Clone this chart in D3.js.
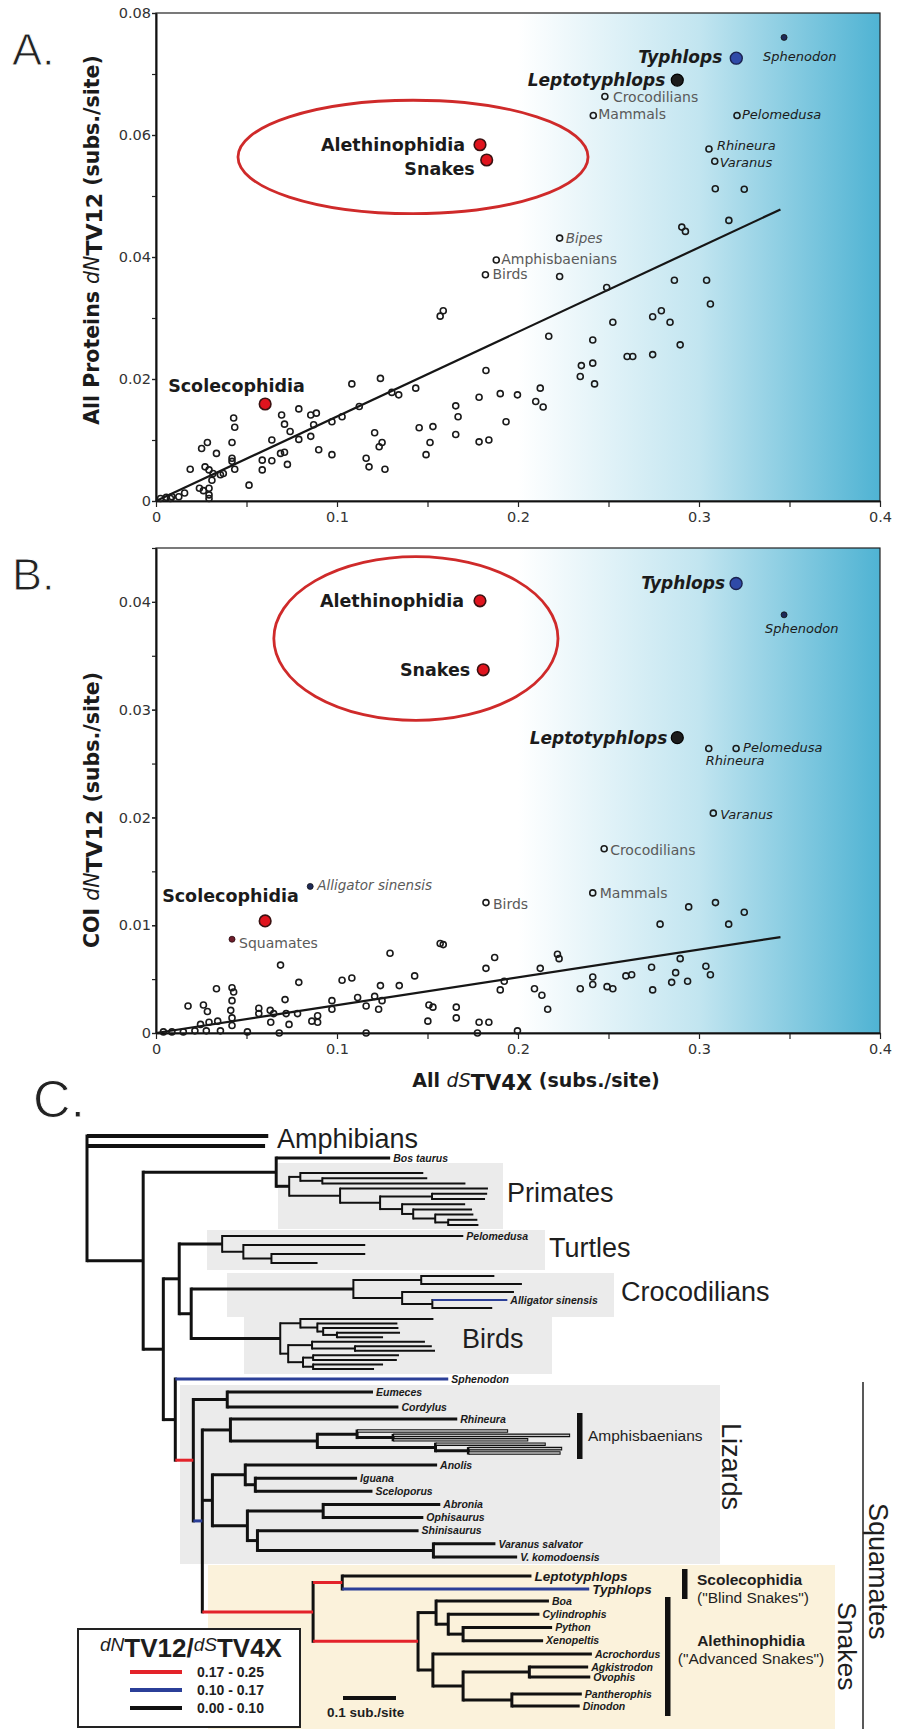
<!DOCTYPE html>
<html>
<head>
<meta charset="utf-8">
<script src="https://cdn.jsdelivr.net/npm/d3@7"></script>
<style>
  body { margin: 0; background: #fff; }
  svg { display: block; }
</style>
</head>
<body>
<svg id="fig" width="906" height="1729"></svg>
<script>
// ---------- panel A: all proteins dN(TV12) vs dS(TV4X) ----------
const protPoints = [
  [0.249,0.035],[0.2864,0.0362],[0.3042,0.0362],[0.3063,0.0323],[0.157,0.0303],[0.1587,0.0312],
  [0.2744,0.0302],[0.2792,0.0312],[0.284,0.0293],[0.2524,0.0293],[0.217,0.027],[0.2413,0.0264],
  [0.2896,0.0256],[0.2603,0.0237],[0.2634,0.0237],[0.2744,0.024],[0.235,0.0222],[0.2413,0.0226],
  [0.2344,0.0204],[0.2423,0.0192],[0.1823,0.0214],[0.2123,0.0185],[0.2098,0.0163],[0.2139,0.0154],
  [0.1997,0.0174],[0.1902,0.0176],[0.1785,0.017],[0.1934,0.013],[0.1785,0.0097],[0.1839,0.01],
  [0.1656,0.0156],[0.1669,0.0138],[0.1656,0.0109],[0.153,0.0122],[0.1454,0.012],[0.1514,0.0096],
  [0.1492,0.0076],[0.1435,0.0185],[0.1341,0.0174],[0.1303,0.0178],[0.124,0.0201],[0.1208,0.0112],
  [0.1249,0.0096],[0.1233,0.0089],[0.1161,0.007],[0.1177,0.0056],[0.1265,0.0052],[0.1082,0.0192],
  [0.1123,0.0155],[0.1028,0.0138],[0.0972,0.013],[0.0972,0.0076],[0.0899,0.0084],[0.0886,0.0144],
  [0.0855,0.0141],[0.0789,0.0151],[0.0871,0.0125],[0.0855,0.0106],[0.0789,0.0101],[0.0741,0.0114],
  [0.0694,0.0141],[0.071,0.0126],[0.064,0.01],[0.071,0.008],[0.0688,0.0078],[0.064,0.0066],
  [0.0726,0.006],[0.0587,0.0067],[0.0587,0.0051],[0.0514,0.0026],[0.0429,0.0136],[0.0435,0.0121],
  [0.042,0.0096],[0.042,0.007],[0.0435,0.0052],[0.042,0.0065],[0.0334,0.0078],[0.0284,0.0096],
  [0.0252,0.0086],[0.0189,0.0052],[0.0271,0.0056],[0.0293,0.0051],[0.0309,0.0034],[0.0356,0.0043],
  [0.0293,0.0021],[0.024,0.0021],[0.0262,0.0017],[0.0293,0.001],[0.0293,0.0004],[0.0158,0.0013],
  [0.0126,0.0007],[0.0088,0.0007],[0.008,0.0004],[0.0025,0.0004],[0.0057,0.0006],[0.0315,0.0045],
  [0.0372,0.0045],[0.309,0.0512],[0.325,0.0511],[0.3165,0.046],[0.2905,0.0449],[0.2925,0.0442],
  [0.223,0.0368]
];
const protTaxa = [
  ['Typhlops',0.3206,0.0726],['Sphenodon',0.347,0.076],['Leptotyphlops',0.288,0.069],
  ['Crocodilians',0.248,0.0663],['Mammals',0.2416,0.0632],['Pelomedusa',0.321,0.0632],
  ['Rhineura',0.3055,0.0577],['Varanus',0.3087,0.0557],['Alethinophidia',0.179,0.0584],
  ['Snakes',0.1827,0.0559],['Bipes',0.223,0.0431],['Amphisbaenians',0.188,0.0395],
  ['Birds',0.182,0.0371],['Scolecophidia',0.0603,0.0159]
];
const protFit = [[0,0],[0.345,0.0478]];
const protCircle = {cx:0.142, cy:0.0564, rx:0.0967, ry:0.0093};

// ---------- panel B: COI dN(TV12) vs dS(TV4X) ----------
const coiPoints = [
  [0.2943,0.0117],[0.3091,0.0121],[0.325,0.0112],[0.2785,0.0101],[0.3164,0.0101],[0.157,0.0083],
  [0.1587,0.0082],[0.1293,0.0074],[0.2218,0.0073],[0.2227,0.0069],[0.1871,0.007],[0.1823,0.006],
  [0.2123,0.006],[0.2896,0.0069],[0.0688,0.0063],[0.2738,0.0061],[0.3038,0.0062],[0.3063,0.0054],
  [0.2871,0.0056],[0.2596,0.0053],[0.2628,0.0054],[0.2413,0.0052],[0.2849,0.0047],[0.2937,0.0048],
  [0.2492,0.0043],[0.2524,0.0041],[0.2744,0.004],[0.2344,0.0041],[0.2413,0.0045],[0.1924,0.0048],
  [0.1902,0.004],[0.2091,0.0041],[0.2132,0.0035],[0.2164,0.0022],[0.1429,0.0053],[0.1344,0.0044],
  [0.124,0.0044],[0.1208,0.0034],[0.1249,0.003],[0.1161,0.0025],[0.123,0.0022],[0.1114,0.0033],
  [0.1082,0.0051],[0.1028,0.0049],[0.0972,0.003],[0.0972,0.0022],[0.0893,0.0016],[0.0861,0.0011],
  [0.0893,0.001],[0.0789,0.0047],[0.0782,0.0018],[0.0713,0.0031],[0.0719,0.0018],[0.0631,0.0021],
  [0.065,0.0018],[0.0634,0.001],[0.0735,0.0008],[0.0568,0.0023],[0.0568,0.0018],[0.042,0.0042],
  [0.0429,0.0038],[0.042,0.003],[0.0413,0.0021],[0.042,0.0014],[0.042,0.0007],[0.0334,0.0041],
  [0.0262,0.0026],[0.0284,0.002],[0.0177,0.0025],[0.0246,0.0008],[0.0293,0.001],[0.0341,0.0011],
  [0.0356,0.0002],[0.0278,0.0002],[0.0215,0.0002],[0.0151,0.0001],[0.0088,0.0001],[0.0041,0.0001],
  [0.0505,0.0001],[0.0681,0],[0.1161,0],[0.1776,0],[0.1997,0.0002],[0.1659,0.0024],[0.1659,0.0014],
  [0.1508,0.0026],[0.153,0.0024],[0.1502,0.0011],[0.1785,0.001],[0.1839,0.001]
];
const coiTaxa = [
  ['Typhlops',0.3205,0.0417],['Sphenodon',0.347,0.0388],['Alethinophidia',0.179,0.0401],
  ['Snakes',0.1808,0.0337],['Leptotyphlops',0.288,0.0274],['Rhineura',0.3054,0.0264],
  ['Pelomedusa',0.3205,0.0264],['Varanus',0.3079,0.0204],['Crocodilians',0.2476,0.0171],
  ['Alligator sinensis',0.0852,0.0136],['Mammals',0.2413,0.013],['Birds',0.1823,0.0121],
  ['Scolecophidia',0.0603,0.0104],['Squamates',0.042,0.0087]
];
const coiFit = [[0,0],[0.345,0.0089]];
const coiCircle = {cx:0.1436, cy:0.0366, rx:0.0785, ry:0.0076};

const xTicks = [0, 0.1, 0.2, 0.3, 0.4];
const xMinor = [0.05, 0.15, 0.25, 0.35];

// ---------- panel C: phylogeny (newick, branch lengths in subs./site, @r / @b = rate class) ----------
const mammalsNwk = "(Bos taurus:0.215,((:0.232,(:0.198,:0.27):0.0415):0.021,(:0.279,((:0.104,:0.1):0.098,(:0.119,(:0.111,(:0.072,(:0.055,:0.057):0.0245):0.0415):0.021):0.0415):0.0755):0.096)Primates:0.0245)Mammalia:0.251";
const turtlesNwk = "(Pelomedusa:0.455,(:0.23,(:0.177,:0.087):0.053):0.04)Testudines:0.081";
const crocsNwk = "((:0.138,:0.19):0.128,(:0.211,(Alligator sinensis:0.1415@b,:0.113):0.057):0.092)Crocodylia:0.306";
const birdsNwk = "((:0.251,(:0.151,(:0.142,(:0.119,:0.087):0.026):0.011):0.032):0.038,((:0.213,(:0.145,:0.151):0.081):0.045,((:0.162,:0.158):0.019,(:0.132,:0.115):0.019):0.028):0.015)Aves:0.168";
const scincoidNwk = "(Eumeces:0.275,Cordylus:0.323)Scincoidea:0.064";
const lacertoidNwk = "(Rhineura:0.428,((:0.285,(:0.334,:0.255):0.068):0.075,(:0.208,(:0.177,:0.174):0.062):0.223)Amphisbaenia:0.164)Lacertoidea:0.053";
const toxicoferaNwk = "((Anolis:0.362,(Iguana:0.192,Sceloporus:0.221):0.019):0.062,((Abronia:0.221,Ophisaurus:0.189):0.143,(Shinisaurus:0.304,(Varanus salvator:0.117,V. komodoensis:0.158):0.332):0.019):0.066)Toxicofera:0.019";
const snakesNwk = "((Leptotyphlops:0.357,Typhlops:0.466@b)Scolecophidia:0.055@r,((Boa:0.213,(Cylindrophis:0.172,(Python:0.168,Xenopeltis:0.151):0.028):0.023):0.034,(Acrochordus:0.30,((Agkistrodon:0.111,Ovophis:0.115):0.125,(Pantherophis:0.132,Dinodon:0.128):0.092):0.057):0.028)Alethinophidia:0.198@r)Serpentes:0.209@r";
const treeNwk = `(:0.342,:0.336,(${mammalsNwk},((${turtlesNwk},(${crocsNwk},${birdsNwk})Archosauria:0.0226)Archelosauria:0.030,(Sphenodon:0.515@b,(${scincoidNwk},(${lacertoidNwk},${toxicoferaNwk},${snakesNwk})Episquamata:0.017@b)Squamata:0.034@r)Lepidosauria:0.0226)Sauropsida:0.038)Amniota:0.106)`;

const rateClasses = [
  {key:'r', label:'0.17 - 0.25', color:'#e3232a'},
  {key:'b', label:'0.10 - 0.17', color:'#2b3f98'},
  {key:'k', label:'0.00 - 0.10', color:'#111111'}
];
const scaleBarLength = 0.1;

// =====================================================================
const svg = d3.select('#fig');
const defs = svg.append('defs');
const SANS = '"DejaVu Sans", Verdana, sans-serif';
const ARIAL = '"Liberation Sans", Arial, sans-serif';

const x = d3.scaleLinear().domain([0, 0.4]).range([156, 880]);
const fmt = d => d === 0 ? '0' : String(+d.toFixed(3));

const markKind = n => ({Alethinophidia:'red', Snakes:'red', Scolecophidia:'red', Typhlops:'blue',
  Leptotyphlops:'black', Sphenodon:'dot', 'Alligator sinensis':'dot', Squamates:'dotRed'})[n] || 'open';
function textStyle(n) {
  if (['Alethinophidia','Snakes','Scolecophidia'].includes(n)) return {w:'bold', s:'normal', size:17.5, fill:'#1b1b1b'};
  if (['Typhlops','Leptotyphlops'].includes(n)) return {w:'bold', s:'italic', size:17, fill:'#1b1b1b'};
  if (['Sphenodon','Pelomedusa','Rhineura','Varanus'].includes(n)) return {w:'normal', s:'italic', size:13, fill:'#1b1b1b'};
  if (['Bipes','Alligator sinensis'].includes(n)) return {w:'normal', s:'italic', size:13.5, fill:'#5a5a5a'};
  return {w:'normal', s:'normal', size:14, fill:'#5a5a5a'};
}
const labelsA = {
  Typhlops:[-14,5,'end'], Sphenodon:[-21,24,'start'], Leptotyphlops:[-12,6,'end'], Crocodilians:[8,5,'start'],
  Mammals:[5,4,'start'], Pelomedusa:[5,4,'start'], Rhineura:[8,1,'start'], Varanus:[5,6,'start'],
  Alethinophidia:[-15,6,'end'], Snakes:[-12,15,'end'], Bipes:[6,5,'start'], Amphisbaenians:[5,4,'start'],
  Birds:[7,4,'start'], Scolecophidia:[-97,-12,'start']
};
const labelsB = {
  Typhlops:[-11,5,'end'], Sphenodon:[-19,18,'start'], Alethinophidia:[-16,6,'end'], Snakes:[-13,6,'end'],
  Leptotyphlops:[-10,6,'end'], Pelomedusa:[7,4,'start'], Rhineura:[-3,17,'start'], Varanus:[7,6,'start'],
  Crocodilians:[6,6,'start'], 'Alligator sinensis':[7,4,'start'], Mammals:[7,5,'start'], Birds:[7,6,'start'],
  Scolecophidia:[-103,-19,'start'], Squamates:[7,9,'start']
};

function scatter(cfg) {
  const y = d3.scaleLinear().domain([0, cfg.yMax]).range([cfg.bottom, cfg.top]);
  const g = svg.append('g');
  const gid = 'grad' + cfg.id;
  defs.append('linearGradient').attr('id', gid).attr('gradientUnits', 'userSpaceOnUse')
    .attr('x1', x(0.2)).attr('x2', x(0.4)).attr('y1', 0).attr('y2', 0)
    .selectAll('stop').data([[0,'#ffffff'],[0.5,'#c2e5f0'],[1,'#4fb3d3']]).join('stop')
    .attr('offset', d => d[0]).attr('stop-color', d => d[1]);
  g.append('rect').attr('x', x(0)).attr('y', y(cfg.yMax))
    .attr('width', x(0.4) - x(0)).attr('height', y(0) - y(cfg.yMax))
    .attr('fill', `url(#${gid})`).attr('stroke', '#222').attr('stroke-width', 1.2);

  // axes
  const styleAxis = a => {
    a.select('.domain').attr('stroke', '#111').attr('stroke-width', 1.6);
    a.selectAll('.tick line').attr('stroke', '#222').attr('stroke-width', 1.2);
    a.selectAll('text').attr('font-family', SANS).attr('font-size', 14.5).attr('fill', '#333');
  };
  g.append('g').attr('transform', `translate(${x(0)},0)`)
    .call(d3.axisLeft(y).tickValues(cfg.yMinor).tickSize(4).tickSizeOuter(0).tickFormat('')).call(styleAxis);
  g.append('g').attr('transform', `translate(${x(0)},0)`)
    .call(d3.axisLeft(y).tickValues(cfg.yTicks).tickSize(4).tickPadding(1).tickSizeOuter(0).tickFormat(fmt)).call(styleAxis);
  g.append('g').attr('transform', `translate(0,${y(0)})`)
    .call(d3.axisBottom(x).tickValues(xMinor).tickSize(6).tickSizeOuter(0).tickFormat('')).call(styleAxis);
  g.append('g').attr('transform', `translate(0,${y(0)})`)
    .call(d3.axisBottom(x).tickValues(xTicks).tickSize(6).tickPadding(5).tickSizeOuter(0).tickFormat(fmt)).call(styleAxis);

  // highlight ellipse
  const c = cfg.circle;
  g.append('ellipse').attr('cx', x(c.cx)).attr('cy', y(c.cy))
    .attr('rx', x(c.rx) - x(0)).attr('ry', y(0) - y(c.ry))
    .attr('fill', 'none').attr('stroke', '#cf2a2a').attr('stroke-width', 2.8);

  // regression line
  g.append('path').datum(cfg.fit)
    .attr('d', d3.line().x(d => x(d[0])).y(d => y(d[1])))
    .attr('stroke', '#161616').attr('stroke-width', 2.2).attr('fill', 'none');

  // unlabeled taxa
  g.append('g').selectAll('circle').data(cfg.points).join('circle')
    .attr('cx', d => x(d[0])).attr('cy', d => y(d[1])).attr('r', 3)
    .attr('fill', 'none').attr('stroke', '#1a1a1a').attr('stroke-width', 1.6);

  // labeled taxa
  const mk = {
    open:   {r:3,   fill:'none',    stroke:'#1a1a1a', sw:1.6},
    dot:    {r:3,   fill:'#1e2a58', stroke:'#111',    sw:0.8},
    dotRed: {r:3,   fill:'#6e1d2b', stroke:'#2a0a10', sw:0.8},
    red:    {r:5.8, fill:'#e0141e', stroke:'#3a1111', sw:1.6},
    blue:   {r:6,   fill:'#2f4aa8', stroke:'#1a2250', sw:1.4},
    black:  {r:6,   fill:'#1c1c1c', stroke:'#000',    sw:1.2}
  };
  const order = t => (['red','blue','black'].includes(markKind(t[0])) ? 1 : 0);
  g.append('g').selectAll('circle').data(cfg.taxa.slice().sort((a, b) => order(a) - order(b))).join('circle')
    .attr('cx', d => x(d[1])).attr('cy', d => y(d[2]))
    .attr('r', d => mk[markKind(d[0])].r)
    .attr('fill', d => mk[markKind(d[0])].fill)
    .attr('stroke', d => mk[markKind(d[0])].stroke)
    .attr('stroke-width', d => mk[markKind(d[0])].sw);

  g.append('g').selectAll('text').data(cfg.taxa).join('text')
    .attr('x', d => x(d[1]) + cfg.labels[d[0]][0])
    .attr('y', d => y(d[2]) + cfg.labels[d[0]][1])
    .attr('text-anchor', d => cfg.labels[d[0]][2])
    .attr('font-family', SANS)
    .attr('font-size', d => textStyle(d[0]).size)
    .attr('font-weight', d => textStyle(d[0]).w)
    .attr('font-style', d => textStyle(d[0]).s)
    .attr('fill', d => textStyle(d[0]).fill)
    .text(d => d[0]);

  // y title
  const yt = svg.append('text')
    .attr('transform', `translate(99,${cfg.titleY}) rotate(-90)`)
    .attr('text-anchor', 'middle').attr('font-family', SANS).attr('font-size', 20.5)
    .attr('font-weight', 'bold').attr('fill', '#1b1b1b');
  yt.append('tspan').text(cfg.yTitle + ' ');
  yt.append('tspan').attr('font-style', 'italic').attr('font-weight', 'normal').text('dN');
  yt.append('tspan').attr('dy', 3).attr('font-size', 22).text('TV12');
  yt.append('tspan').attr('dy', -3).text(' (subs./site)');
}

scatter({id:'A', top:13, bottom:501, yMax:0.08, yTicks:[0,0.02,0.04,0.06,0.08],
  yMinor:d3.range(0, 0.081, 0.01), points:protPoints, taxa:protTaxa, fit:protFit,
  circle:protCircle, labels:labelsA, yTitle:'All Proteins', titleY:240});
scatter({id:'B', top:548, bottom:1033, yMax:0.045, yTicks:[0,0.01,0.02,0.03,0.04],
  yMinor:d3.range(0, 0.0451, 0.005), points:coiPoints, taxa:coiTaxa, fit:coiFit,
  circle:coiCircle, labels:labelsB, yTitle:'COI', titleY:810});

// x title
const xt = svg.append('text').attr('x', 536).attr('y', 1087).attr('text-anchor', 'middle')
  .attr('font-family', SANS).attr('font-size', 19).attr('font-weight', 'bold').attr('fill', '#1b1b1b');
xt.append('tspan').text('All ');
xt.append('tspan').attr('font-style', 'italic').attr('font-weight', 'normal').text('dS');
xt.append('tspan').attr('dy', 3).attr('font-size', 21).text('TV4X');
xt.append('tspan').attr('dy', -3).text(' (subs./site)');

// panel letters (thin look: white hairline over the fill)
[['A.', 12, 65, 45], ['B.', 12, 590, 45], ['C.', 33, 1117, 52]].forEach(([t, px, py, fs]) => {
  svg.append('text').attr('x', px).attr('y', py).attr('font-family', ARIAL)
    .attr('font-size', fs).attr('fill', '#222').attr('stroke', '#fff').attr('stroke-width', 0.9).text(t);
});

// ---------- tree ----------
function parseNewick(s) {
  let i = 0;
  function node() {
    const n = {children: []};
    if (s[i] === '(') {
      i++;
      n.children.push(node());
      while (s[i] === ',') { i++; n.children.push(node()); }
      i++;
    }
    let name = '';
    while (i < s.length && !':,()@'.includes(s[i])) name += s[i++];
    n.name = name.trim();
    n.length = 0;
    if (s[i] === ':') {
      i++;
      let num = '';
      while (i < s.length && /[0-9.]/.test(s[i])) num += s[i++];
      n.length = +num;
    }
    if (s[i] === '@') { i++; n.color = s[i++]; }
    return n;
  }
  return node();
}

const root = d3.hierarchy(parseNewick(treeNwk), d => d.children.length ? d.children : null);
root.eachBefore(n => { n.len = n.parent ? n.parent.len + n.data.length : 0; });

const tx = d3.scaleLinear().domain([0, 1]).range([87, 617]);
const leafY = d3.scaleLinear()
  .domain([0, 1, 2, 3, 13, 14, 17, 18, 22, 23, 34, 35, 36, 37, 38, 39, 44, 45, 52, 53, 54, 55, 59, 60, 61, 62, 63])
  .range([1136, 1146, 1158, 1173, 1225, 1236, 1263, 1276, 1308, 1319, 1369, 1379, 1392, 1407, 1419, 1431,
          1453, 1465, 1557, 1576, 1589, 1601, 1654, 1667, 1677, 1694, 1706]);
root.leaves().forEach((l, i) => { l.py = leafY(i); });
root.eachAfter(n => {
  if (n.children) n.py = (n.children[0].py + n.children[n.children.length - 1].py) / 2;
  n.px = tx(n.len);
});
const byName = name => root.descendants().find(n => n.data.name === name);
const extent = names => d3.extent(names.flatMap(nm => byName(nm).leaves().map(l => l.py)));

const tree = svg.append('g');
const GREY = '#ebebeb';
// clade shading
const shades = [
  {clades:['Primates'], x0:278, x1:503, pad:[10,4], fill:GREY},
  {clades:['Testudines'], x0:207, x1:545, pad:[6,7], fill:GREY},
  {clades:['Crocodylia'], x0:227, x1:614, pad:[3,9], fill:GREY},
  {clades:['Aves'], x0:244, x1:552, pad:[2,5], fill:GREY},
  {clades:['Scincoidea','Lacertoidea','Toxicofera'], x0:180, x1:720, pad:[7,7], fill:GREY},
  {clades:['Serpentes'], x0:208, x1:835, pad:[11,30], fill:'#fbf2db'}
];
tree.selectAll('rect.shade').data(shades).join('rect').attr('class', 'shade')
  .attr('x', d => d.x0).attr('width', d => d.x1 - d.x0)
  .attr('y', d => extent(d.clades)[0] - d.pad[0])
  .attr('height', d => extent(d.clades)[1] - extent(d.clades)[0] + d.pad[0] + d.pad[1])
  .attr('fill', d => d.fill);

const thinClades = new Set(['Primates', 'Testudines', 'Crocodylia', 'Aves']);
const inThin = n => n.ancestors().some(a => thinClades.has(a.data.name));
const colorOf = c => c ? rateClasses.find(r => r.key === c).color : '#111';
const hollow = n => !n.children && n.parent && n.parent.ancestors().some(a => a.data.name === 'Amphisbaenia');
function branchWidth(n) {
  if (n.parent === root && !n.children) return 4.2;
  if (inThin(n.parent)) return 2;
  return 3;
}

// vertical connectors
tree.append('g').selectAll('line').data(root.descendants().filter(n => n.children)).join('line')
  .attr('x1', n => n.px).attr('x2', n => n.px)
  .attr('y1', n => n.children[0].py).attr('y2', n => n.children[n.children.length - 1].py)
  .attr('stroke', '#111').attr('stroke-width', n => inThin(n) ? 2 : 3).attr('stroke-linecap', 'square');
// horizontal branches
const branches = root.descendants().filter(n => n.parent);
tree.append('g').selectAll('line').data(branches).join('line')
  .attr('x1', n => n.parent.px).attr('x2', n => n.px)
  .attr('y1', n => n.py).attr('y2', n => n.py)
  .attr('stroke', n => colorOf(n.data.color))
  .attr('stroke-width', n => hollow(n) ? 3.6 : branchWidth(n));
tree.append('g').selectAll('line').data(branches.filter(hollow)).join('line')
  .attr('x1', n => n.parent.px + 1).attr('x2', n => n.px - 1)
  .attr('y1', n => n.py).attr('y2', n => n.py)
  .attr('stroke', '#c4c4c4').attr('stroke-width', 1.3);

// leaf names
const bigTips = new Set(['Leptotyphlops', 'Typhlops']);
tree.append('g').selectAll('text').data(root.leaves().filter(l => l.data.name)).join('text')
  .attr('x', l => l.px + 3).attr('y', l => l.py).attr('dy', '0.35em')
  .attr('font-family', ARIAL).attr('font-weight', 'bold').attr('font-style', 'italic')
  .attr('font-size', l => bigTips.has(l.data.name) ? 13.5 : 10.5)
  .attr('fill', '#1a1a1a').text(l => l.data.name);

// group names
const groupText = (t, px, py, fs, rot) => tree.append('text')
  .attr('transform', `translate(${px},${py})` + (rot ? ' rotate(90)' : ''))
  .attr('font-family', ARIAL).attr('font-size', fs).attr('fill', '#1e1e1e').text(t);
groupText('Amphibians', 277, 1148, 27);
groupText('Primates', 507, 1202, 27);
groupText('Turtles', 549, 1257, 27);
groupText('Crocodilians', 621, 1301, 27);
groupText('Birds', 462, 1348, 27);
groupText('Lizards', 722, 1423, 27, true);
groupText('Snakes', 838, 1602, 26.5, true);
groupText('Squamates', 869, 1503, 27, true);
tree.append('line').attr('x1', 863).attr('x2', 863).attr('y1', 1382).attr('y2', 1729)
  .attr('stroke', '#222').attr('stroke-width', 1.5);

// clade bars
const bars = [
  {clade:'Lacertoidea', x:577, pad:[6,6]},
  {clade:'Scolecophidia', x:682, pad:[7,10]},
  {clade:'Alethinophidia', x:665, pad:[4,10]}
];
tree.selectAll('rect.bar').data(bars).join('rect').attr('class', 'bar')
  .attr('x', d => d.x).attr('width', 5.5)
  .attr('y', d => extent([d.clade])[0] - d.pad[0])
  .attr('height', d => extent([d.clade])[1] - extent([d.clade])[0] + d.pad[0] + d.pad[1])
  .attr('fill', '#111');
const note = (t, px, py, w, anchor) => tree.append('text').attr('x', px).attr('y', py)
  .attr('text-anchor', anchor || 'start').attr('font-family', ARIAL).attr('font-size', 15.5)
  .attr('font-weight', w).attr('fill', '#1e1e1e').text(t);
note('Amphisbaenians', 588, 1441, 'normal');
note('Scolecophidia', 697, 1585, 'bold');
note('("Blind Snakes")', 697, 1603, 'normal');
note('Alethinophidia', 751, 1646, 'bold', 'middle');
note('("Advanced Snakes")', 751, 1664, 'normal', 'middle');

// scale bar
tree.append('line').attr('x1', 343).attr('x2', 343 + tx(scaleBarLength) - tx(0))
  .attr('y1', 1698).attr('y2', 1698).attr('stroke', '#111').attr('stroke-width', 4);
tree.append('text').attr('x', 327).attr('y', 1717).attr('font-family', ARIAL).attr('font-size', 13.5)
  .attr('font-weight', 'bold').attr('fill', '#1e1e1e').text('0.1 sub./site');

// legend
const lg = svg.append('g');
lg.append('rect').attr('x', 78).attr('y', 1629).attr('width', 222).attr('height', 98)
  .attr('fill', '#fff').attr('stroke', '#222').attr('stroke-width', 2);
const lt = lg.append('text').attr('x', 100).attr('y', 1657).attr('font-family', ARIAL)
  .attr('font-weight', 'bold').attr('font-size', 26).attr('fill', '#1e1e1e');
lt.append('tspan').attr('font-style', 'italic').attr('font-weight', 'normal').attr('font-size', 19).attr('dy', -6).text('dN');
lt.append('tspan').attr('dy', 6).text('TV12/');
lt.append('tspan').attr('font-style', 'italic').attr('font-weight', 'normal').attr('font-size', 19).attr('dy', -6).text('dS');
lt.append('tspan').attr('dy', 6).text('TV4X');
const li = lg.selectAll('g.item').data(rateClasses).join('g').attr('class', 'item')
  .attr('transform', (d, i) => `translate(0,${1672 + i * 18})`);
li.append('line').attr('x1', 130).attr('x2', 182).attr('stroke', d => d.color).attr('stroke-width', 4);
li.append('text').attr('x', 197).attr('y', 5).attr('font-family', ARIAL).attr('font-weight', 'bold')
  .attr('font-size', 14).attr('fill', '#1e1e1e').text(d => d.label);
</script>
</body>
</html>
